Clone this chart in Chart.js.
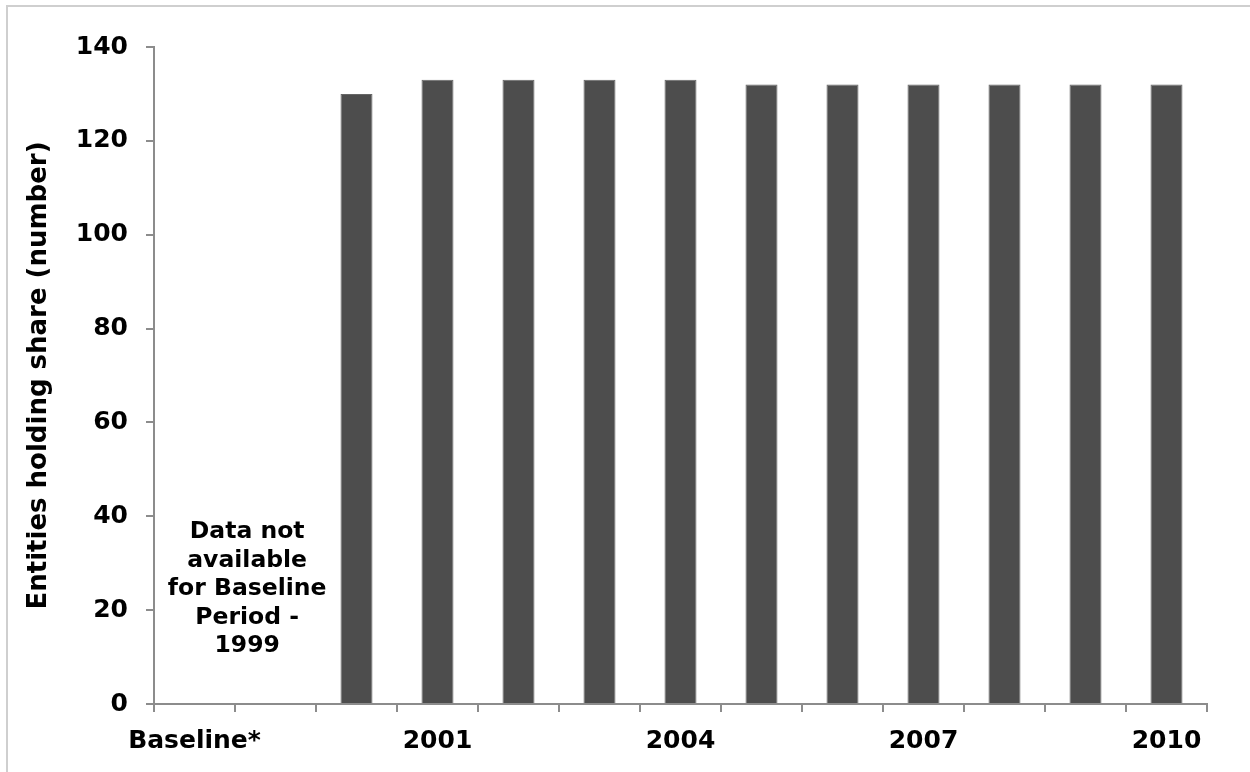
<!DOCTYPE html>
<html>
<head>
<meta charset="utf-8">
<script src="https://cdn.jsdelivr.net/npm/chart.js@4/dist/chart.umd.min.js"></script>
<style>
    html, body { margin: 0; padding: 0; background: #fff; overflow: hidden; }
    #frame { position: absolute; left: 6px; top: 5px; width: 1400px; height: 900px;
             border-left: 2px solid #cfcfcf; border-top: 2px solid #cfcfcf; }
    #wrap { position: absolute; left: 0; top: 0; width: 1250px; height: 772px; }
</style>
</head>
<body>
<div id="frame"></div>
<div id="wrap"><canvas id="entitiesChart"></canvas></div>
<script>
// --- Dados ---
const categories = ['Baseline*', '', '2000', '2001', '2002', '2003', '2004', '2005', '2006', '2007', '2008', '2009', '2010'];
const entities = [null, null, 130, 133, 133, 133, 133, 132, 132, 132, 132, 132, 132];
const xTickLabels = ['Baseline*', '2001', '2004', '2007', '2010'];
const yTicks = [0, 20, 40, 60, 80, 100, 120, 140];
const noteLines = ['Data not', 'available', 'for Baseline', 'Period -', '1999'];

const FONT = 'DejaVu Sans';
const AXIS_GREY = '#8c8c8c';

// texto "Data not available..." dentro do grafico
const notePlugin = {
    id: 'baselineNote',
    afterDatasetsDraw(chart) {
        const ctx = chart.ctx;
        const x = chart.scales.x.getPixelForValue(0.65);
        const y0 = chart.scales.y.getPixelForValue(36.6);
        ctx.save();
        ctx.font = 'bold 23.5px "' + FONT + '"';
        ctx.fillStyle = '#000';
        ctx.textAlign = 'center';
        ctx.textBaseline = 'middle';
        noteLines.forEach((line, i) => ctx.fillText(line, x, y0 + i * 28.4));
        ctx.restore();
    }
};

function initChart() {
    const ctx = document.getElementById('entitiesChart').getContext('2d');
    new Chart(ctx, {
        type: 'bar',
        data: {
            labels: categories,
            datasets: [{
                label: 'Entities holding share',
                data: entities,
                backgroundColor: '#4d4d4d',
                borderColor: '#666',
                borderWidth: 1,
                categoryPercentage: 1,
                barPercentage: 0.395
            }]
        },
        options: {
            responsive: true,
            maintainAspectRatio: false,
            animation: false,
            layout: { padding: { left: 10, top: 47, right: 43, bottom: 0 } },
            plugins: {
                legend: { display: false },
                tooltip: { enabled: false }
            },
            scales: {
                x: {
                    grid: { drawOnChartArea: false, offset: true, tickLength: 8, color: AXIS_GREY, lineWidth: 2 },
                    border: { color: AXIS_GREY, width: 2 },
                    ticks: {
                        autoSkip: false,
                        maxRotation: 0,
                        padding: 14,
                        color: '#000',
                        font: { family: FONT, size: 25, weight: 'bold' },
                        callback: function (v) {
                            const l = this.getLabelForValue(v);
                            return xTickLabels.includes(l) ? l : '';
                        }
                    },
                    afterFit: (s) => { s.height = 68; }
                },
                y: {
                    min: yTicks[0],
                    max: yTicks[yTicks.length - 1],
                    afterBuildTicks: (s) => { s.ticks = yTicks.map(v => ({ value: v })); },
                    grid: { drawOnChartArea: false, tickLength: 8, color: AXIS_GREY, lineWidth: 2 },
                    border: { color: AXIS_GREY, width: 2 },
                    ticks: {
                        padding: 18,
                        color: '#000',
                        font: { family: FONT, size: 25, weight: 'bold' }
                    },
                    title: {
                        display: true,
                        text: 'Entities holding share (number)',
                        color: '#000',
                        font: { family: FONT, size: 26, weight: 'bold', lineHeight: 1.2 },
                        padding: { top: 14, bottom: 0 }
                    },
                    afterFit: (s) => { s.width = 144; }
                }
            }
        },
        plugins: [notePlugin]
    });
}

document.addEventListener('DOMContentLoaded', initChart);
</script>
</body>
</html>
